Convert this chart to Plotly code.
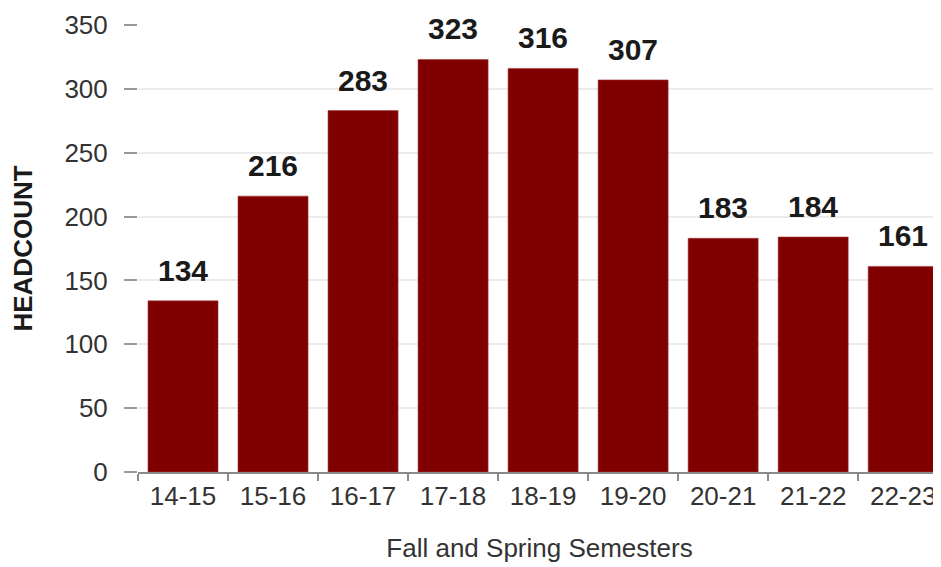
import plotly.graph_objects as go

categories = ["14-15", "15-16", "16-17", "17-18", "18-19", "19-20", "20-21", "21-22", "22-23"]
headcount = [134, 216, 283, 323, 316, 307, 183, 184, 161]
y_ticks = [0, 50, 100, 150, 200, 250, 300, 350]

BAR_COLOR = "#800000"
TEXT_COLOR = "#333333"
FONT = "Liberation Sans, Arial, sans-serif"

fig = go.Figure()
fig.add_trace(go.Bar(
    x=categories,
    y=headcount,
    marker=dict(color=BAR_COLOR, line=dict(color="#a33a3a", width=0.6)),
    hoverinfo="skip",
))

for c, v in zip(categories, headcount):
    fig.add_annotation(
        x=c, y=v, xref="x", yref="y",
        text=f"<b>{v}</b>", showarrow=False,
        yanchor="bottom", yshift=12,
        font=dict(family=FONT, size=30, color="#1a1a1a"),
    )

fig.update_layout(
    width=933, height=559,
    margin=dict(l=130, r=0, t=17, b=95),
    paper_bgcolor="white", plot_bgcolor="white",
    showlegend=False,
    bargap=0.222,
    font=dict(family=FONT, size=26, color=TEXT_COLOR),
    xaxis=dict(
        type="category",
        range=[-0.5, 8.42],
        showline=True, linecolor="#8a8a8a", linewidth=1.5,
        ticks="outside", tickson="boundaries", ticklen=7, tickcolor="#8a8a8a", tickwidth=1.5,
        showgrid=False,
        tickfont=dict(family=FONT, size=26, color=TEXT_COLOR),
        title=dict(text="Fall and Spring Semesters", standoff=29,
                   font=dict(family=FONT, size=26, color=TEXT_COLOR)),
    ),
    yaxis=dict(
        range=[0, 350],
        tickvals=y_ticks,
        showline=False, zeroline=False,
        showgrid=True, gridcolor="#ebebeb", gridwidth=2,
        ticks="outside", ticklen=13, tickcolor="#999999", tickwidth=1.5,
        ticklabelstandoff=11,
        tickfont=dict(family=FONT, size=26, color=TEXT_COLOR),
        title=dict(text="<b>HEADCOUNT</b>", standoff=24,
                   font=dict(family=FONT, size=26, color="#1a1a1a")),
    ),
)

fig.write_html("out.html")
